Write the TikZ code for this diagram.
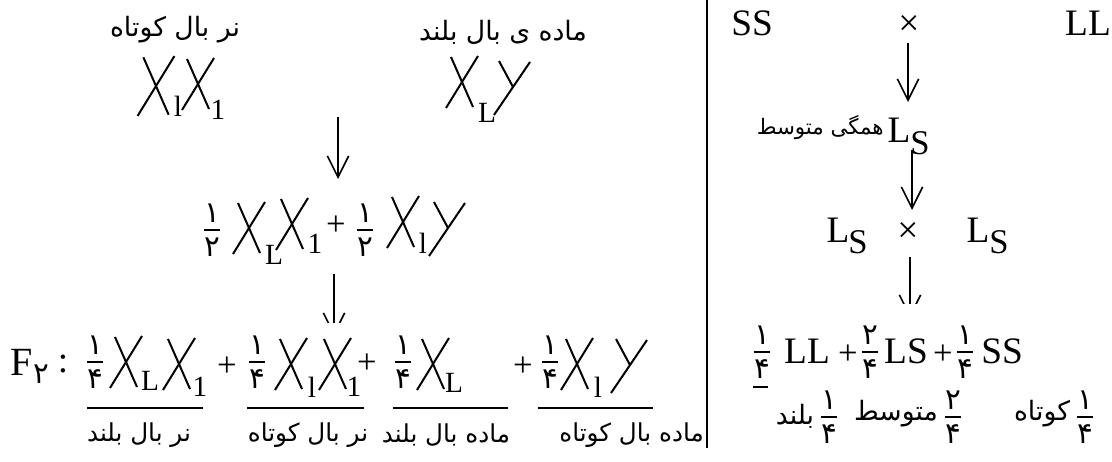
\documentclass[tikz,border=0pt]{standalone}
\usepackage{fontspec}
\setmainfont{Liberation Serif}
\newfontfamily\arabicfont[Script=Arabic]{DejaVu Sans}
\TeXXeTstate=1
\usetikzlibrary{arrows.meta}
\newcommand{\fa}[1]{{\arabicfont\beginR #1\endR}}
\newcommand{\pfrac}[2]{\vbox{\offinterlineskip\halign{\hfil##\hfil\cr
  \arabicfont #1\cr\noalign{\kern5pt}
  \vrule width 12pt height 1.1pt depth 0pt\cr\noalign{\kern5pt}
  \arabicfont #2\cr}}}
\tikzset{
  chr/.style={line width=1.5pt},
  xc/.pic={\draw[chr] (-11,-25) -- (11,25); \draw[chr] (16,-26) -- (-16,26);},
  yc/.pic={\draw[chr] (-13,-27) -- (1,-1); \draw[chr] (18,-26) -- (-18,27);},
  lat/.style={font=\fontsize{28}{30}\selectfont, inner sep=0pt},
  sub/.style={font=\fontsize{22}{24}\selectfont, inner sep=0pt},
  ssub/.style={font=\fontsize{26}{28}\selectfont, inner sep=0pt},
  op/.style={font=\fontsize{26}{28}\selectfont, inner sep=0pt},
  tim/.style={font=\fontsize{28}{30}\selectfont, inner sep=0pt},
  lab/.style={font=\fontsize{20}{22}\selectfont, inner sep=0pt},
  blab/.style={font=\fontsize{18.5}{20}\selectfont, inner sep=0pt},
  frc/.style={font=\fontsize{22}{24}\selectfont, inner sep=0pt},
  arr/.style={line width=1.3pt, -{Straight Barb[length=16pt,width=16pt,line width=1.2pt]}},
  ul/.style={line width=1.5pt},
}
\begin{document}
\begin{tikzpicture}[x=0.75pt,y=-0.75pt]
\useasboundingbox (0,0) rectangle (1112,461);
% separator
\draw[line width=2pt] (707,0) -- (707,448);

% ===== left panel, top row
\node[lab] (t1) at (175,30) {\fa{نر بال کوتاه}};
\node[lab] (t2) at (503,32) {\fa{ماده ی بال بلند}};
\pic[scale=1.15] at (156,86) {xc};
\node[sub] (s1) at (178,106) {l};
\pic at (198,84) {xc};
\node[sub] (s2) at (218,110) {1};
\pic at (462,82) {xc};
\node[sub] (s3) at (487,113) {L};
\pic at (512,88) {yc};

\coordinate (a1s) at (338,117);
\coordinate (a1e) at (338,179);
\draw[arr] (a1s) -- (a1e);

% ===== middle row
\node[frc] (h1) at (212,230) {\pfrac{۱}{۲}};
\pic at (249,228) {xc};
\node[sub] (m1) at (274,255) {L};
\pic at (292,224) {xc};
\node[sub] (m2) at (315,244) {1};
\node[op] (p1) at (336,226) {+};
\node[frc] (h2) at (365,230) {\pfrac{۱}{۲}};
\pic at (403,222) {xc};
\node[sub] (m3) at (423,243) {l};
\pic at (447,229) {yc};

\coordinate (a2s) at (334,274);
\coordinate (a2e) at (334,336);
\begin{scope}
\clip (0,0) rectangle (700,322);
\draw[arr] (a2s) -- (a2e);
\end{scope}

% ===== bottom row
\node[font=\fontsize{30}{32}\selectfont, inner sep=0pt] (F) at (22,362) {F};
\node[font=\fontsize{22}{24}\arabicfont, inner sep=0pt] (F2) at (41,374) {۲};
\node[lat] (col) at (63,364) {:};

\node[frc] (q1) at (95,362) {\pfrac{۱}{۴}};
\pic at (126,362) {xc};
\node[sub] (b1) at (150,381) {L};
\pic at (179,364) {xc};
\node[sub] (b2) at (200,387) {1};
\draw[ul] (87,408) -- (203,408);
\node[op] (p2) at (227,367) {+};

\node[frc] (q2) at (257,362) {\pfrac{۱}{۴}};
\pic at (291,364) {xc};
\node[sub] (b3) at (312,387) {l};
\pic at (335,364) {xc};
\node[sub] (b4) at (354,387) {1};
\draw[ul] (247,408) -- (364,408);
\node[op] (p3) at (367,364) {+};

\node[frc] (q3) at (403,362) {\pfrac{۱}{۴}};
\pic at (433,364) {xc};
\node[sub] (b5) at (454,383) {L};
\draw[ul] (393,408) -- (508,408);
\node[op] (p4) at (523,367) {+};

\node[frc] (q4) at (550,362) {\pfrac{۱}{۴}};
\pic at (577,364) {xc};
\node[sub] (b6) at (598,387) {l};
\pic at (629,366) {yc};
\draw[ul] (538,408) -- (653,408);

\node[blab] (l1) at (139,435) {\fa{نر بال بلند}};
\node[blab] (l2) at (308,435) {\fa{نر بال کوتاه}};
\node[blab] (l3) at (446,435) {\fa{ماده بال بلند}};
\node[blab, anchor=east] (l4) at (704,435) {\fa{ماده بال کوتاه}};

% ===== right panel
\node[lat] (SS) at (752,23) {SS};
\node[tim] (x1) at (909,25) {×};
\node[lat] (LL) at (1088,23) {LL};
\coordinate (r1s) at (908,43);
\coordinate (r1e) at (908,102);
\draw[arr] (r1s) -- (r1e);

\node[font=\fontsize{16}{18}\selectfont, inner sep=0pt, anchor=east] (hm) at (884,128) {\fa{همگی متوسط}};
\node[lat] (L0) at (899,130) {L};
\node[ssub] (S0) at (920,143) {S};
\coordinate (r2s) at (912,150);
\coordinate (r2e) at (912,210);
\draw[arr] (r2s) -- (r2e);

\node[lat] (L1) at (838,230) {L};
\node[ssub] (S1) at (858,242) {S};
\node[tim] (x2) at (908,232) {×};
\node[lat] (L2) at (978,230) {L};
\node[ssub] (S2) at (999,242) {S};
\coordinate (r3s) at (910,257);
\coordinate (r3e) at (910,318);
\begin{scope}
\clip (712,0) rectangle (1112,303);
\draw[arr] (r3s) -- (r3e);
\end{scope}

\node[frc] (f1) at (762,352) {\pfrac{۱}{۴}};
\draw[ul] (753,387) -- (768,387);
\node[lat] (gLL) at (807,351) {LL};
\node[op] (p5) at (848,355) {+};
\node[frc] (f2) at (870,352) {\pfrac{۲}{۴}};
\node[lat] (gLS) at (906,351) {LS};
\node[op] (p6) at (943,355) {+};
\node[frc] (f3) at (965,352) {\pfrac{۱}{۴}};
\node[lat] (gSS) at (1002,351) {SS};

\node[lab] (w1) at (795,416) {\fa{بلند}};
\node[frc] (g1) at (829,417) {\pfrac{۱}{۴}};
\node[lab] (w2) at (896,414) {\fa{متوسط}};
\node[frc] (g2) at (953,417) {\pfrac{۲}{۴}};
\node[lab] (w3) at (1042,414) {\fa{کوتاه}};
\node[frc] (g3) at (1085,417) {\pfrac{۱}{۴}};
\end{tikzpicture}
\end{document}
